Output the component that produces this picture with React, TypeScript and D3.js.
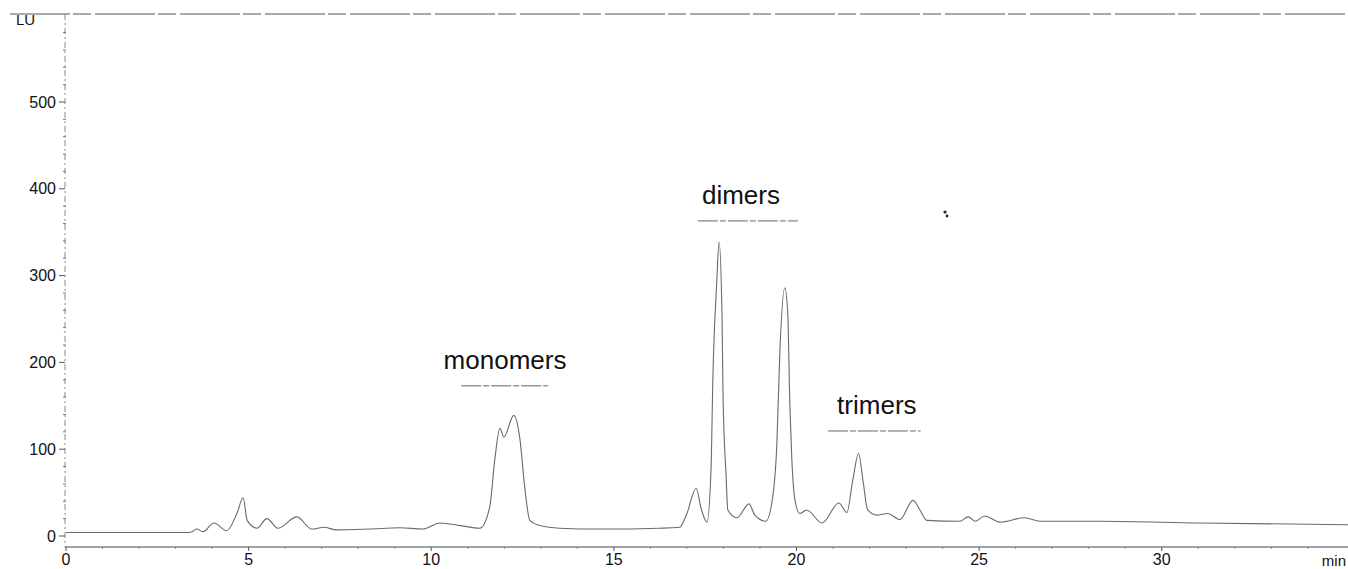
import React from "react";
import * as d3 from "d3";

// chromatogram trace (min, LU)
const retentionTimes = [
  0, 3.3, 3.45, 3.58, 3.75, 4.05, 4.4, 4.68, 4.85, 4.96, 5.23, 5.5, 5.8, 6.32, 6.73, 7.06, 7.41, 8.3, 9.14,
  9.77, 10.24, 10.8, 11.33, 11.6, 11.74, 11.88, 11.99, 12.26, 12.43, 12.56, 12.7, 12.98, 13.52, 14.6, 16.26,
  16.8, 17.0, 17.25, 17.4, 17.55, 17.66, 17.71, 17.82, 17.88, 17.96, 17.99, 18.07, 18.12, 18.37, 18.7, 18.86,
  19.16, 19.35, 19.46, 19.55, 19.68, 19.76, 19.82, 19.87, 19.96, 20.09, 20.28, 20.7, 21.16, 21.38, 21.54, 21.7,
  21.82, 21.95, 22.2, 22.5, 22.83, 23.19, 23.38, 23.57, 24.47, 24.7, 24.9, 25.15, 25.57, 26.25, 26.66, 28.3,
  31.0, 35.1,
];
const signalLU = [
  4, 4, 5, 8, 5, 15, 6, 26, 44, 18, 9, 20, 9, 22, 8, 10, 7, 8, 9.5,
  8, 15, 12, 9, 33, 88, 124, 114, 139, 111, 56, 18, 12, 9, 8, 9,
  10, 26, 55, 30, 16, 76, 180, 295, 339, 257, 160, 72, 30, 21, 37, 24,
  17, 45, 103, 218, 286, 257, 149, 91, 41, 26, 30, 15, 38, 27, 64, 95,
  64, 30, 24, 26, 19, 41, 30, 18, 17, 22, 17, 23, 16, 21, 17, 17,
  15, 13,
];

const yTicks = [0, 100, 200, 300, 400, 500];
const xTicks = [0, 5, 10, 15, 20, 25, 30];

const peakNames = ["monomers", "dimers", "trimers"];
const peakFrom = [10.82, 17.3, 20.86];
const peakTo = [13.2, 20.04, 23.4];
const peakLevel = [173, 363, 121];
const peakLabelAt = [12.02, 18.48, 22.2];

const font = "'Liberation Sans', Arial, sans-serif";

export default function App() {
  const width = 1348, height = 569;

  const x = d3.scaleLinear().domain([0, 35.1]).range([66, 1348]);
  const y = d3.scaleLinear().domain([0, 600]).range([536, 15.2]);

  const pts: [number, number][] = retentionTimes.map((t, i) => [t, signalLU[i]]);
  const line = d3.line<[number, number]>()
    .x(d => x(d[0]))
    .y(d => y(d[1]))
    .curve(d3.curveMonotoneX);

  const axisY = 547;
  const minorY = d3.range(0, 601, 20).filter(v => v % 100 !== 0);
  const minorX = d3.range(1, 35, 1).filter(v => v % 5 !== 0);

  return (
    <svg width={width} height={height} style={{ position: "absolute", left: 0, top: 0 }} fontFamily={font}>
      <rect width={width} height={height} fill="#fff" />

      {/* top frame line */}
      <line x1={10} x2={1348} y1={14} y2={14} stroke="#555" strokeWidth={1} strokeDasharray="60 3 18 4" />

      {/* y axis */}
      <line x1={65} x2={65} y1={14} y2={axisY} stroke="#888" strokeWidth={1} strokeDasharray="6 3 2 3" />
      {yTicks.map(v => (
        <g key={v}>
          <line x1={59} x2={65} y1={y(v)} y2={y(v)} stroke="#555" />
          <text x={56} y={y(v)} dy="0.35em" textAnchor="end" fontSize={16} fill="#111">{v}</text>
        </g>
      ))}
      {minorY.map(v => (
        <line key={v} x1={63} x2={66} y1={y(v)} y2={y(v)} stroke="#777" />
      ))}
      <text x={16} y={25} fontSize={15} fill="#111">LU</text>

      {/* x axis */}
      <line x1={65} x2={1348} y1={axisY} y2={axisY} stroke="#444" strokeWidth={1.2} />
      {xTicks.map(v => (
        <g key={v}>
          <line x1={x(v)} x2={x(v)} y1={axisY} y2={axisY + 4} stroke="#555" />
          <text x={x(v)} y={565} textAnchor="middle" fontSize={16} fill="#111">{v}</text>
        </g>
      ))}
      {minorX.map(v => (
        <line key={v} x1={x(v)} x2={x(v)} y1={axisY} y2={axisY + 2} stroke="#888" />
      ))}
      <text x={1346} y={566} textAnchor="end" fontSize={15} fill="#111">min</text>

      {/* trace */}
      <path d={line(pts) ?? ""} fill="none" stroke="#6a6a6a" strokeWidth={1.1} />

      {/* peak group labels */}
      {peakNames.map((name, i) => (
        <g key={name}>
          <line x1={x(peakFrom[i])} x2={x(peakTo[i])} y1={y(peakLevel[i])} y2={y(peakLevel[i])}
            stroke="#666" strokeWidth={1} strokeDasharray="20 2 6 2" />
          <text x={x(peakLabelAt[i])} y={y(peakLevel[i]) - 17} textAnchor="middle" fontSize={26} fill="#111">{name}</text>
        </g>
      ))}

      {/* speck on the scan */}
      <circle cx={945} cy={212} r={1.6} fill="#222" />
      <circle cx={947} cy={216} r={1.4} fill="#222" />
    </svg>
  );
}
